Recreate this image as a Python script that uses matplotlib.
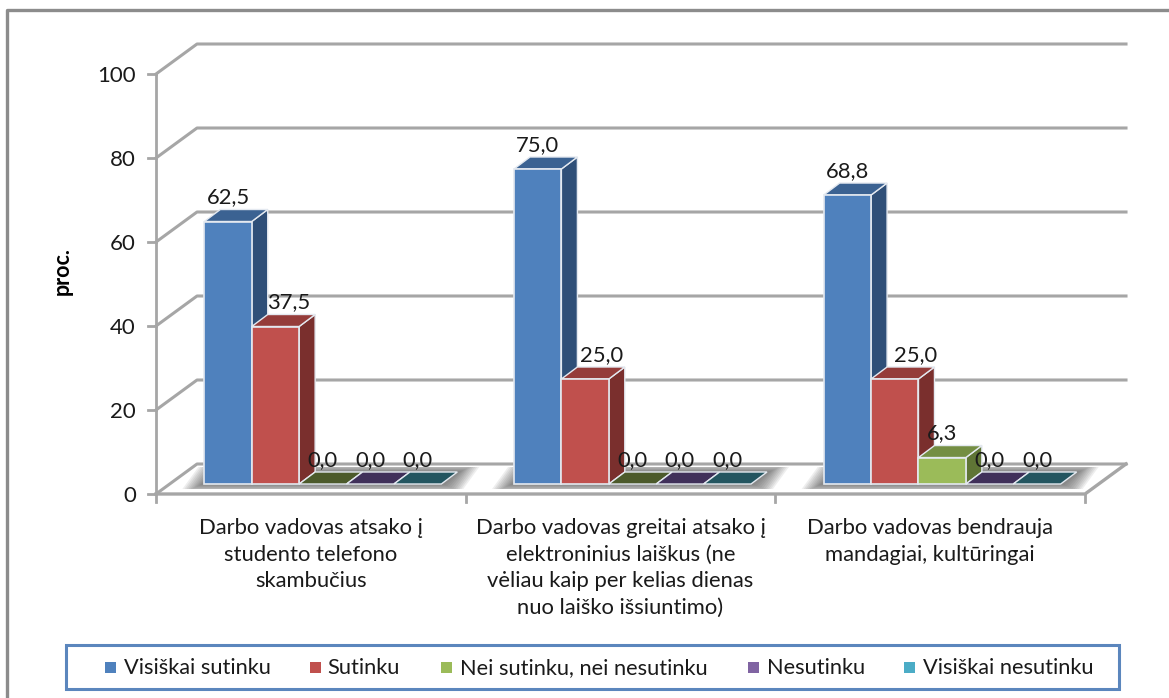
import matplotlib
matplotlib.use("Agg")
import matplotlib.pyplot as plt
from matplotlib.patches import Polygon, Rectangle

plt.rcParams['font.family'] = ['Lato', 'DejaVu Sans']

# data
categories = ['Darbo vadovas atsako į\nstudento telefono\nskambučius',
              'Darbo vadovas greitai atsako į\nelektroninius laiškus (ne\nvėliau kaip per kelias dienas\nnuo laiško išsiuntimo)',
              'Darbo vadovas bendrauja\nmandagiai, kultūringai']
series_names = ['Visiškai sutinku', 'Sutinku', 'Nei sutinku, nei nesutinku', 'Nesutinku', 'Visiškai nesutinku']
visiskai_sutinku = [62.5, 75.0, 68.8]
sutinku = [37.5, 25.0, 25.0]
nei_nei = [0.0, 0.0, 6.3]
nesutinku = [0.0, 0.0, 0.0]
visiskai_nesutinku = [0.0, 0.0, 0.0]
series_values = [visiskai_sutinku, sutinku, nei_nei, nesutinku, visiskai_nesutinku]
yticks = [0, 20, 40, 60, 80, 100]

front_colors = ['#4f81bd', '#c0504d', '#9bbb59', '#8064a2', '#4bacc6']
side_colors = ['#2f4f78', '#7a2f2d', '#5f7535', '#3f2f55', '#24566a']
top_colors = ['#3b6292', '#953c3a', '#748e43', '#40305a', '#235560']
zero_colors = ['#3b6292', '#953c3a', '#4c5a2b', '#40305a', '#235560']
grid_col = '#a6a6a6'
W, H = 1169, 698

# red labels sit to the right of their bars (px)
red_label_shift = [13, 16, 21]

fig = plt.figure(figsize=(W / 100, H / 100), dpi=100)

# front plane of the 3D box: x 156-1085 px, y 74-494 px
ax = fig.add_axes([156 / W, 1 - 494 / H, (1085 - 156) / W, (494 - 74) / H])
ax.set_xlim(0, 3)
ax.set_ylim(0, 100)
ax.axis('off')

ux = 3 / (1085 - 156)   # data units per pixel
uy = 100 / (494 - 74)
dx, dy = 41 * ux, 30 * uy  # wall depth
bx, by = 16 * ux, 12 * uy  # bar depth
ox, oy = 12 * ux, 10 * uy  # bar offset from front of floor
bw = 47.4 * ux


def poly(pts, z=2, **kw):
    ax.add_patch(Polygon(pts, closed=True, clip_on=False, zorder=z, **kw))


# walls and gridlines
for v in yticks:
    ax.plot([0, dx, 3 + dx], [v, v + dy, v + dy], color=grid_col, lw=2.2, clip_on=False, zorder=1)
    ax.plot([-8 * ux, 0], [v, v], color=grid_col, lw=2, clip_on=False, zorder=1)
ax.plot([0, 0], [0, 100], color=grid_col, lw=2, clip_on=False, zorder=1)
ax.plot([0, 3, 3 + dx], [0, 0, dy], color=grid_col, lw=2.4, clip_on=False, zorder=1)
for i in range(4):
    ax.plot([i, i], [0, -8 * uy], color=grid_col, lw=2, clip_on=False, zorder=1)

# bars
n = len(series_values)
for c in range(len(categories)):
    start = c + 0.5 + ox - n * bw / 2

    # soft shadow on the floor
    x0, x1 = start - 2 * ux, start + n * bw + 2 * ux
    for g in range(10):
        e = (10 - g) * 2.0
        ey = min(e * 0.45, 5)
        poly([(x0 - e * ux, oy - ey * uy), (x1 + e * ux, oy - ey * uy),
              (x1 + bx + e * ux, oy + by + ey * uy), (x0 + bx - e * ux, oy + by + ey * uy)],
             z=1.5, facecolor='#404040', edgecolor='none', alpha=0.085)

    for s in range(n):
        v = series_values[s][c]
        x = start + s * bw
        y0 = oy
        y1 = oy + v
        z = 3 + s * 0.1
        top = top_colors[s] if v > 0 else zero_colors[s]
        if v > 0:
            ax.add_patch(Rectangle((x, y0), bw, v, facecolor=front_colors[s], edgecolor='#e4e9f0',
                                   lw=1.2, clip_on=False, zorder=z + 0.02))
            poly([(x + bw, y0), (x + bw + bx, y0 + by), (x + bw + bx, y1 + by), (x + bw, y1)], z=z,
                 facecolor=side_colors[s], edgecolor='#e4e9f0', lw=1.0)
        poly([(x, y1), (x + bw, y1), (x + bw + bx, y1 + by), (x + bx, y1 + by)], z=z + 0.01,
             facecolor=top, edgecolor='#e4e9f0', lw=1.0)
        shift = red_label_shift[c] if s == 1 else 0
        ax.text(x + bw / 2 + shift * ux, y1 + 24 * uy, f'{v:.1f}'.replace('.', ','), ha='center', va='center',
                fontsize=15.8, color='#1a1a1a', zorder=10, clip_on=False)

    ax.text(c + 0.5, -24 * uy, categories[c], ha='center', va='top', fontsize=15.8,
            color='#1a1a1a', linespacing=1.41, clip_on=False)

for v in yticks:
    ax.text(-20 * ux, v - 2 * uy, str(v), ha='right', va='center', fontsize=16, color='#1a1a1a', clip_on=False)

fig.text(62 / W, 1 - 271 / H, 'proc.', rotation=90, ha='center', va='center', fontsize=15.5, fontweight='bold')

# outer frame, only left and top are in the crop
fig.add_artist(plt.Line2D([7 / W, 7 / W, 1], [0, 1 - 10 / H, 1 - 10 / H], transform=fig.transFigure,
                          color='#8c8c8c', lw=2.4))

# legend box
fig.add_artist(Rectangle((66 / W, 1 - 689 / H), (1119 - 66) / W, (689 - 645) / H, transform=fig.transFigure,
                         facecolor='white', edgecolor='#5b86bd', lw=2.2))
legend_x = [105, 310, 441, 748, 904]
legend_gap = [19, 17, 19, 19, 19]
for name, lx, gap, col in zip(series_names, legend_x, legend_gap, front_colors):
    fig.add_artist(Rectangle((lx / W, 1 - 673 / H), 11 / W, 11 / H, transform=fig.transFigure,
                             facecolor=col, edgecolor='none'))
    fig.text((lx + gap) / W, 1 - 668 / H, name, ha='left', va='center', fontsize=15.7, color='#1a1a1a')

fig.savefig('out.png', dpi=100)
